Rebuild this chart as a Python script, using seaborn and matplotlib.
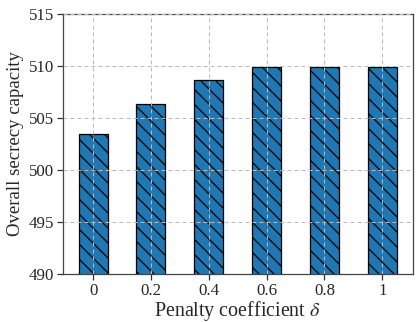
import matplotlib
matplotlib.use("Agg")
import matplotlib.pyplot as plt
import seaborn as sns
import pandas as pd

# data
deltas = ["0", "0.2", "0.4", "0.6", "0.8", "1"]
capacity = [503.5, 506.3, 508.65, 509.9, 509.9, 509.9]

sns.set_style("ticks")
plt.rcParams["font.family"] = ["Liberation Serif", "DejaVu Serif"]
plt.rcParams["mathtext.fontset"] = "stix"
plt.rcParams["hatch.linewidth"] = 1.0
plt.rcParams["hatch.color"] = "black"

df = pd.DataFrame({"delta": deltas, "capacity": capacity})

dpi = 90
fig = plt.figure(figsize=(417 / dpi, 322 / dpi), dpi=dpi)
ax = fig.add_axes([62.7 / 417, 1 - 274 / 322, 350 / 417, 260 / 322])

sns.barplot(data=df, x="delta", y="capacity", color="#1f77b4", saturation=1,
            width=0.5, edgecolor="black", linewidth=1.0, ax=ax)
for p in ax.patches:
    p.set_hatch("\\\\")

ax.set_ylim(490, 515)
ax.set_xlim(-0.525, 5.525)
ax.set_yticks([490, 495, 500, 505, 510, 515])
ax.grid(True, linestyle=(0, (4, 3)), color="#bbbbbb", linewidth=0.8)
ax.set_axisbelow(False)

ax.set_xlabel(r"Penalty coefficient $\delta$", fontsize=16, labelpad=0)
ax.set_ylabel("Overall secrecy capacity", fontsize=15, labelpad=4)
ax.tick_params(labelsize=13.5, direction="out", length=4.5, width=1.0,
               bottom=True, left=True, color="#333333", pad=2.5)
for s in ax.spines.values():
    s.set_visible(True)
    s.set_color("#444444")
    s.set_linewidth(1.0)

fig.savefig("out.png", dpi=dpi)
